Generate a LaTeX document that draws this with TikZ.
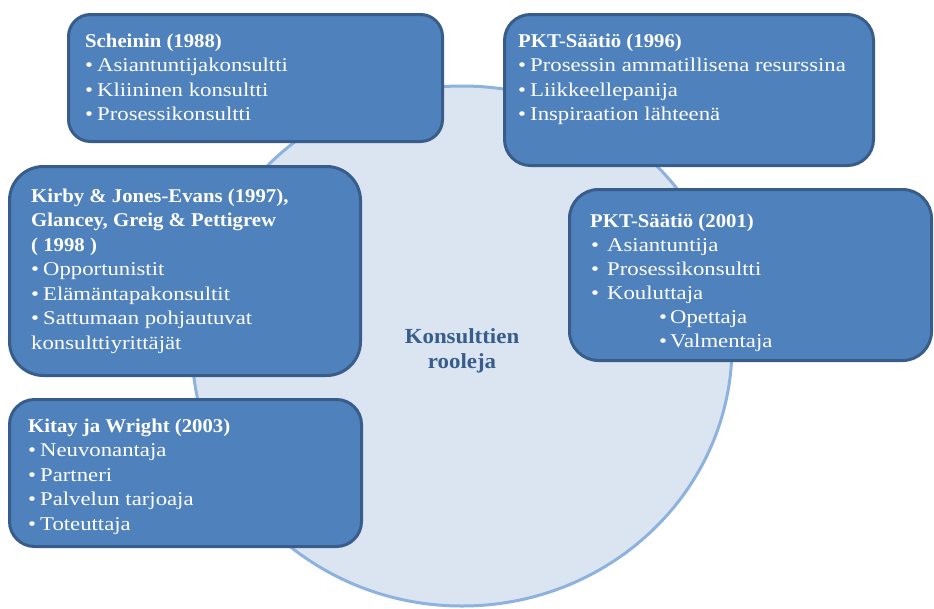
\documentclass[tikz,border=0pt]{standalone}
\usepackage{fontspec}
\setmainfont{Liberation Serif}[FakeStretch=1.166, BoldFeatures={FakeStretch=1.065}]
\usetikzlibrary{shapes.geometric}
\definecolor{boxfill}{RGB}{79,129,189}
\definecolor{boxline}{RGB}{56,93,138}
\definecolor{ringfill}{RGB}{219,229,241}
\definecolor{ringline}{RGB}{142,178,222}
\definecolor{hubtext}{RGB}{56,93,138}
\tikzset{
  rolebox/.style={draw=boxline, fill=boxfill, line width=3pt, inner sep=0pt, rectangle},
  % multi-line text nodes: the base anchor sits on the last line
  roletext/.style={text=white, inner sep=0pt, align=left, anchor=base west,
    font=\fontsize{19.5}{24.5}\selectfont},
  hub/.style={draw=ringline, fill=ringfill, line width=3pt, ellipse},
}
\newcommand{\bul}{\makebox[12pt][l]{\textbullet}}
\newcommand{\bulwide}{\makebox[17pt][l]{\hspace{1pt}\textbullet}}
\newcommand{\bulsub}{\hspace{69pt}\makebox[11pt][l]{\textbullet}}
\begin{document}
\begin{tikzpicture}[x=1pt,y=-1pt]
\useasboundingbox (0,0) rectangle (934,608);
% central ellipse
\node[hub, minimum width=540pt, minimum height=520pt] (ring) at (462,346) {};
\node[text=hubtext, font=\fontsize{21.5}{25}\selectfont\bfseries, align=center,
  inner sep=0pt, anchor=base] (hubl) at (462,368) {Konsulttien\\rooleja};

% role boxes
\node[rolebox, rounded corners=22pt, minimum width=374pt, minimum height=127pt] (b1) at (255.5,78) {};
\node[rolebox, rounded corners=26pt, minimum width=369pt, minimum height=151pt] (b2) at (689,90) {};
\node[rolebox, rounded corners=34pt, minimum width=351pt, minimum height=209pt] (b3) at (185,271) {};
\node[rolebox, rounded corners=29pt, minimum width=362pt, minimum height=171pt] (b4) at (750.5,275) {};
\node[rolebox, rounded corners=25pt, minimum width=352pt, minimum height=147pt] (b5) at (185.5,473) {};

% box texts
\node[roletext] (t1) at (85,120.5) {\textbf{Scheinin (1988)}\\
  \bul Asiantuntijakonsultti\\
  \bul Kliininen konsultti\\
  \bul Prosessikonsultti};
\node[roletext] (t2) at (518,120.5) {\textbf{PKT-Säätiö (1996)}\\
  \bul Prosessin ammatillisena resurssina\\
  \bul Liikkeellepanija\\
  \bul Inspiraation lähteenä};
\node[roletext] (t3) at (31,349) {\textbf{Kirby \& Jones-Evans (1997),}\\
  \textbf{Glancey, Greig \& Pettigrew}\\
  \textbf{( 1998 )}\\
  \bul Opportunistit\\
  \bul Elämäntapakonsultit\\
  \bul Sattumaan pohjautuvat\\
  konsulttiyrittäjät};
\node[roletext, font=\fontsize{19.5}{24}\selectfont] (t4) at (590,347) {\textbf{PKT-Säätiö (2001)}\\
  \bulwide Asiantuntija\\
  \bulwide Prosessikonsultti\\
  \bulwide Kouluttaja\\
  \bulsub Opettaja\\
  \bulsub Valmentaja};
\node[roletext] (t5) at (28,530) {\textbf{Kitay ja Wright (2003)}\\
  \bul Neuvonantaja\\
  \bul Partneri\\
  \bul Palvelun tarjoaja\\
  \bul Toteuttaja};
\end{tikzpicture}
\end{document}
